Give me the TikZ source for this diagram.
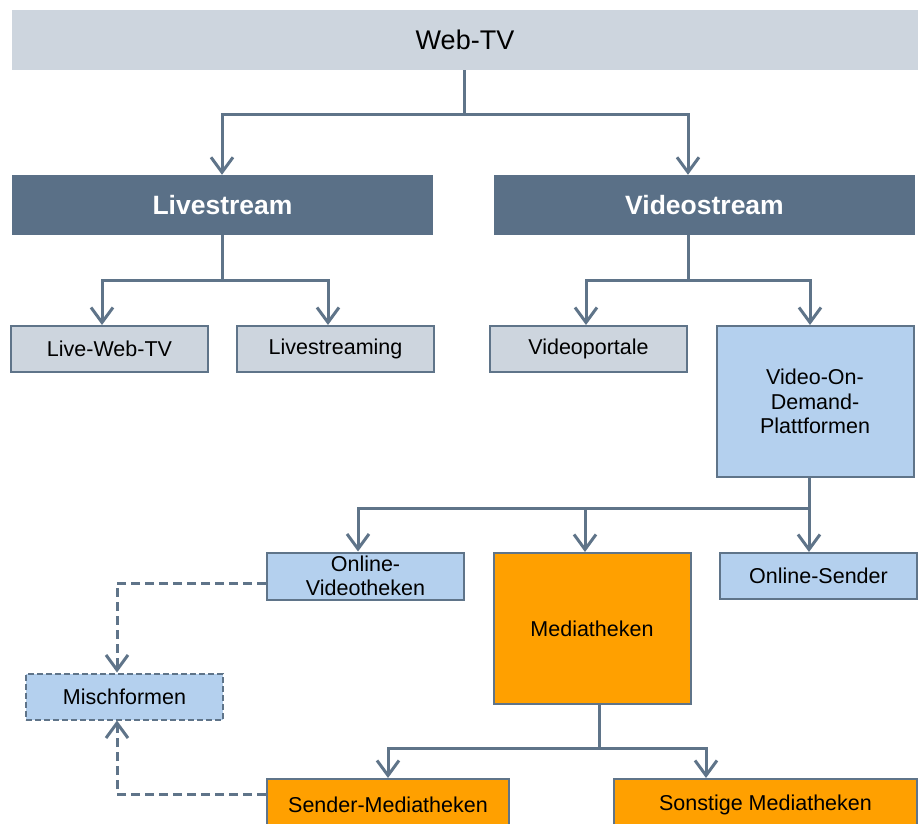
\documentclass[tikz,border=0pt]{standalone}
\usepackage{fontspec}
\setmainfont{Liberation Sans}
\usetikzlibrary{arrows.meta}
\definecolor{slate}{HTML}{5A7087}
\definecolor{lgray}{HTML}{CDD5DE}
\definecolor{lblue}{HTML}{B4D0EE}
\definecolor{orng}{HTML}{FFA000}
\definecolor{conncol}{HTML}{5F7489}
\tikzset{
  box/.style={draw=conncol, line width=2pt, minimum width=197pt, minimum height=46pt, inner sep=0pt, align=center, font=\fontsize{21.5}{24.5}\selectfont},
  graybox/.style={box, fill=lgray},
  bluebox/.style={box, fill=lblue},
  orangebox/.style={box, fill=orng},
  headbox/.style={fill=slate, text=white, minimum width=421pt, minimum height=60pt, inner sep=0pt, font=\fontsize{26.5}{30}\selectfont\bfseries},
  conn/.style={draw=conncol, line width=3pt},
  arr/.style={conn, -{Straight Barb[length=15pt,width=22pt]}},
  dconn/.style={conn, dash pattern=on 9pt off 5pt},
  darr/.style={dconn, -{Straight Barb[length=15pt,width=22pt]}},
}
\begin{document}
\begin{tikzpicture}[x=1pt,y=-1pt]
\useasboundingbox (0,0) rectangle (922,824);
\clip (0,0) rectangle (922,824);
\node[fill=lgray, minimum width=906pt, minimum height=60pt, inner sep=0pt, font=\fontsize{27}{30}\selectfont] (webtv) at (465,40) {Web-TV};
\node[headbox] (live) at (222.5,205) {\raisebox{-2pt}{Livestream}};
\node[headbox] (video) at (704.5,205) {\raisebox{-2pt}{Videostream}};
\node[graybox] (lwt) at (109.5,349) {Live-Web-TV};
\node[graybox] (lstr) at (335.5,349) {Livestreaming};
\node[graybox] (vport) at (588.5,349) {Videoportale};
\node[bluebox, minimum height=151pt] (vod) at (815,401.5) {Video-On-\\Demand-\\Plattformen};
\node[bluebox, minimum height=47pt] (ovt) at (365.5,576) {Online-\\Videotheken};
\node[orangebox, minimum height=151pt, minimum width=197pt] (med) at (592,628.5) {Mediatheken};
\node[bluebox] (osend) at (818.5,576) {Online-Sender};
\node[bluebox, dash pattern=on 6pt off 3pt] (misch) at (124.5,696.5) {Mischformen};
\node[orangebox, minimum width=242pt, minimum height=52pt, anchor=north] (sendm) at (388,778) {\raisebox{-2pt}{Sender-Mediatheken}};
\node[orangebox, minimum width=303pt, minimum height=52pt, anchor=north] (sonst) at (765.5,778) {\raisebox{-2pt}{Sonstige Mediatheken}};
% junctions
\coordinate (j1) at (464,115);
\coordinate (j2) at (222,280);
\coordinate (j3) at (688,280);
\coordinate (j4) at (809,508);
\coordinate (j5) at (599,748);
\coordinate (d1) at (117,583);
\coordinate (d2) at (117,794);
% connectors
\draw[conn] (webtv.south -| j1) -- (j1);
\draw[arr] (j1) -| ([xshift=-0.5pt]live.north);
\draw[arr] (j1) -| ([xshift=-16.5pt]video.north);
\draw[conn] (live.south -| j2) -- (j2);
\draw[arr] (j2) -| ([xshift=-7.5pt]lwt.north);
\draw[arr] (j2) -| ([xshift=-7.5pt]lstr.north);
\draw[conn] (video.south -| j3) -- (j3);
\draw[arr] (j3) -| ([xshift=-2.5pt]vport.north);
\draw[arr] (j3) -| ([xshift=-5pt]vod.north);
\draw[conn] (vod.south -| j4) -- (j4);
\draw[arr] (j4) -| ([xshift=-7.5pt]ovt.north);
\draw[arr] (j4) -| ([xshift=-7pt]med.north);
\draw[arr] (j4) -- (osend.north -| j4);
\draw[conn] (med.south -| j5) -- (j5);
\draw[arr] (j5) -| (sendm.north);
\draw[arr] (j5) -| ([xshift=-59.5pt]sonst.north);
\draw[darr] (ovt.west |- d1) -- (d1) -- (misch.north -| d1);
\draw[darr] (sendm.west |- d2) -- (d2) -- (misch.south -| d2);
\end{tikzpicture}
\end{document}
